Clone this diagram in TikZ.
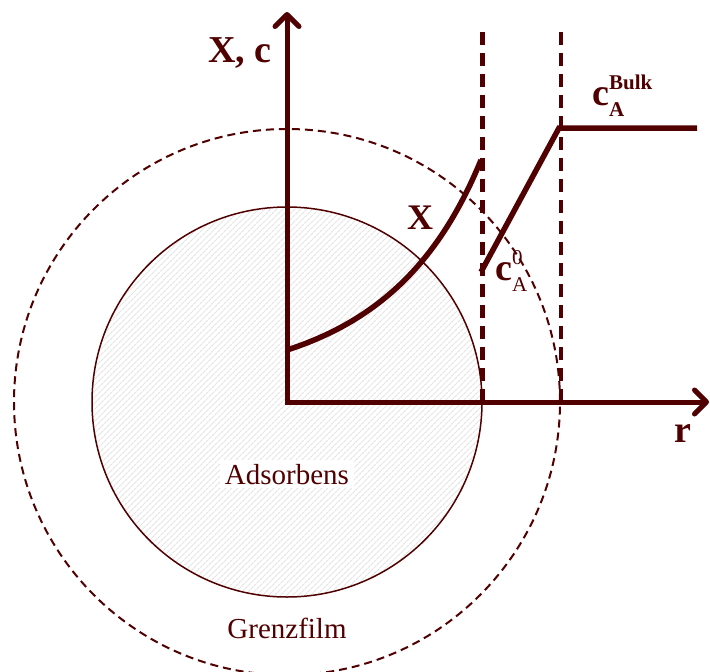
\documentclass[tikz,border=0pt]{standalone}
\usepackage{fontspec}
\setmainfont{Liberation Serif}
\usepackage{xcolor}
\usetikzlibrary{arrows.meta,patterns.meta}
\definecolor{maroon}{RGB}{80,0,0}
\newcommand{\idxfont}{\fontsize{21}{21}\selectfont}
\newcommand{\conc}[2]{c\rlap{\raisebox{-11pt}{\idxfont #1}}\raisebox{16pt}{\idxfont #2}}

\begin{document}
\begin{tikzpicture}[
    x=1pt, y=-1pt,
    every node/.style={text=maroon, inner sep=0pt},
    biglabel/.style={font=\fontsize{38}{40}\selectfont\bfseries, anchor=base west},
    textlabel/.style={font=\fontsize{29}{30}\selectfont, anchor=base},
    axis/.style={draw=maroon, line width=5pt, line join=miter,
      {Straight Barb[length=12pt,width=24pt,round]}-{Straight Barb[length=12pt,width=24pt,round]}},
    profile/.style={draw=maroon, line width=5.5pt},
    wall/.style={draw=maroon, line width=4.5pt, dash pattern=on 13pt off 8pt},
    sorbcircle/.style={circle, draw=maroon, line width=1.5pt, minimum size=390pt,
      pattern={Lines[angle=45,distance=4pt,line width=1.2pt]}, pattern color=black!11},
    filmcircle/.style={circle, draw=maroon, line width=2pt, minimum size=546pt,
      dash pattern=on 8pt off 5pt}
]
\useasboundingbox (0,0) rectangle (710,672);
\coordinate (O) at (287,402);
\coordinate (ytip) at (287,12);
\coordinate (xtip) at (709,402);
\coordinate (top) at (0,32);
% circles
\node[filmcircle] (film) at (O) {};
\node[sorbcircle] (sorb) at (O) {};
% boundary film walls
\draw[wall] (sorb.east) -- (sorb.east |- top);
\draw[wall] (film.east) -- (film.east |- top);
% axes
\draw[axis] (ytip) -- (O) -- (xtip);
% loading and concentration profiles
\coordinate (xstart) at (287,350);
\coordinate (xend) at (481,160);
\coordinate (cs) at (481,272);
\coordinate (cb) at (559,128);
\coordinate (cend) at (697,128);
\draw[profile] (xstart) .. controls (380,320) and (440,260) .. (xend);
\draw[profile, line join=miter] (cs) -- (cb) -- (cend);
% labels
\node[biglabel] (axislabel) at (208,62) {X, c};
\node[biglabel, font=\fontsize{36}{38}\selectfont\bfseries] (xlabel) at (407,229) {X};
\node[biglabel] (c0label) at (495,280) {\conc{\mdseries A}{\mdseries 0}};
\node[biglabel] (cbulklabel) at (592,105) {\conc{A}{Bulk}};
\node[biglabel] (rlabel) at (674,442) {r};
\node[textlabel, fill=white, inner xsep=5pt, inner ysep=4pt] (sorblabel) at (287,484) {Adsorbens};
\node[textlabel] (filmlabel) at (287,638) {Grenzfilm};
\end{tikzpicture}
\end{document}
